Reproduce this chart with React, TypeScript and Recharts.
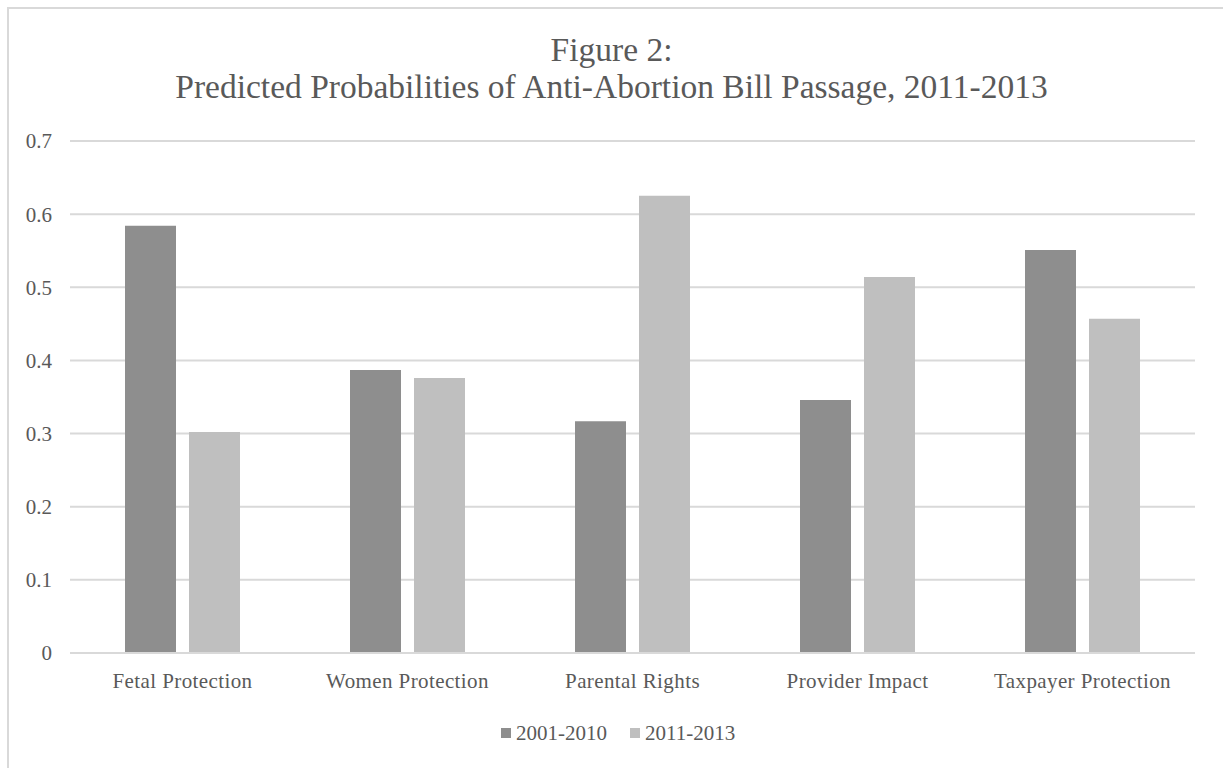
import React from "react";
import { BarChart, Bar, XAxis, YAxis, CartesianGrid } from "recharts";

const categories = ["Fetal Protection", "Women Protection", "Parental Rights", "Provider Impact", "Taxpayer Protection"];
const series2001_2010 = [0.584, 0.387, 0.317, 0.346, 0.551];
const series2011_2013 = [0.302, 0.376, 0.625, 0.514, 0.457];
const yTicks = [0, 0.1, 0.2, 0.3, 0.4, 0.5, 0.6, 0.7];
const seriesNames = ["2001-2010", "2011-2013"];
const seriesColors = ["#8e8e8e", "#bfbfbf"];

const data = categories.map((c, i) => ({
  name: c,
  a: series2001_2010[i],
  b: series2011_2013[i],
}));

const FONT = "'Liberation Serif', 'Times New Roman', serif";
const TEXT = "#595959";

export default function App() {
  return (
    <div style={{ position: "absolute", left: 0, top: 0, width: 1223, height: 768, overflow: "hidden", background: "#fff" }}>
      <div style={{ position: "absolute", left: 7, top: 7, width: 1300, height: 900, border: "2px solid #d9d9d9" }} />
      <div style={{ position: "absolute", left: 0, top: 31, width: 1223, textAlign: "center", fontFamily: FONT, fontSize: 33.5, color: TEXT, lineHeight: "37px" }}>
        <div>Figure 2:</div>
        <div>Predicted Probabilities of Anti-Abortion Bill Passage, 2011-2013</div>
      </div>
      <div style={{ position: "absolute", left: 0, top: 0 }}>
        <BarChart width={1223} height={768} data={data} margin={{ top: 141, right: 28, bottom: 85, left: 0 }} barCategoryGap={55} barGap={13}>
          <CartesianGrid vertical={false} stroke="#d9d9d9" strokeWidth={2} />
          <XAxis dataKey="name" height={30} axisLine={{ stroke: "#d9d9d9", strokeWidth: 2 }} tickLine={false} tickSize={0} tickMargin={20} interval={0}
            tick={{ fill: TEXT, fontSize: 21, fontFamily: FONT, letterSpacing: 0.4 }} />
          <YAxis width={70} domain={[0, 0.7]} ticks={yTicks} axisLine={false} tickLine={false} tickSize={0} tickMargin={18}
            tick={{ fill: TEXT, fontSize: 21, fontFamily: FONT }} tickFormatter={(v) => String(v)} />
          <Bar dataKey="a" name={seriesNames[0]} fill={seriesColors[0]} isAnimationActive={false} />
          <Bar dataKey="b" name={seriesNames[1]} fill={seriesColors[1]} isAnimationActive={false} />
        </BarChart>
      </div>
      <div style={{ position: "absolute", left: 501, top: 721, display: "flex", alignItems: "center", fontFamily: FONT, fontSize: 21, lineHeight: "24px", color: TEXT }}>
        {seriesNames.map((n, i) => (
          <div key={n} style={{ display: "flex", alignItems: "center", marginRight: i === 0 ? 23 : 0 }}>
            <div style={{ width: 10, height: 10, background: seriesColors[i], marginRight: 5 }} />
            <span>{n}</span>
          </div>
        ))}
      </div>
    </div>
  );
}
